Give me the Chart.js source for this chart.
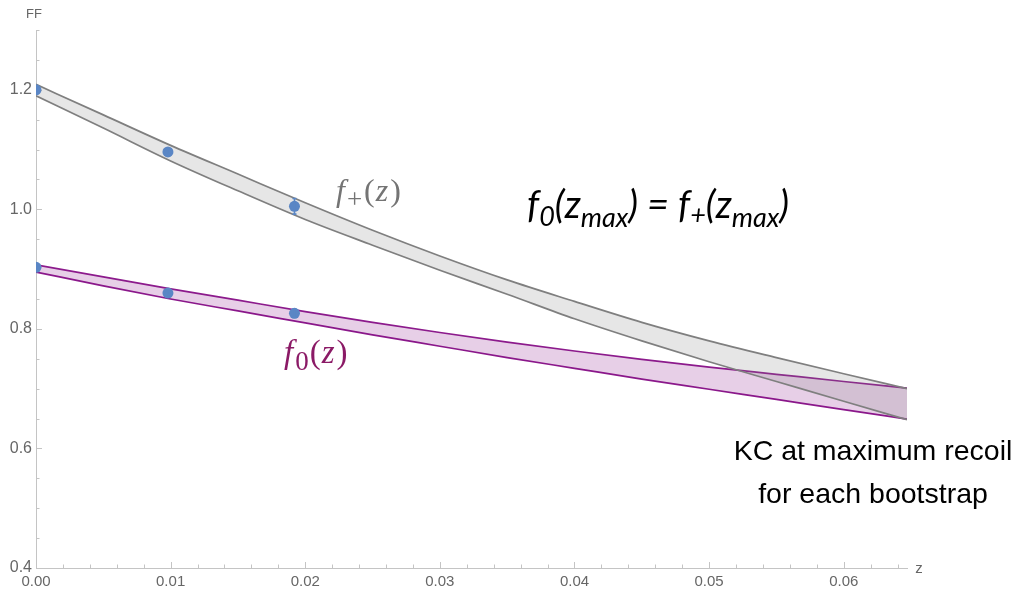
<!DOCTYPE html>
<html>
<head>
<meta charset="utf-8">
<script src="https://cdn.jsdelivr.net/npm/chart.js@4.4.1/dist/chart.umd.min.js"></script>
<style>
  html, body { margin: 0; padding: 0; background: #fff; }
  #wrap { width: 1018px; height: 591px; position: relative; }
</style>
</head>
<body>
<div id="wrap"><canvas id="chart" width="1018" height="591"></canvas></div>
<script>
// band grid (z) and the upper/lower edges of each band
const zGrid   = [0, 0.005, 0.01, 0.015, 0.02, 0.025, 0.03, 0.035, 0.04, 0.045, 0.05, 0.055, 0.06, 0.0647];
const fPlusHi = [1.209, 1.158, 1.107, 1.059, 1.011, 0.965, 0.922, 0.882, 0.846, 0.811, 0.780, 0.752, 0.725, 0.700];
const fPlusLo = [1.190, 1.136, 1.081, 1.031, 0.983, 0.940, 0.898, 0.858, 0.817, 0.780, 0.745, 0.712, 0.679, 0.648];
const fZeroHi = [0.907, 0.887, 0.867, 0.848, 0.829, 0.811, 0.794, 0.778, 0.763, 0.749, 0.736, 0.724, 0.712, 0.701];
const fZeroLo = [0.895, 0.872, 0.850, 0.830, 0.810, 0.790, 0.771, 0.752, 0.734, 0.716, 0.699, 0.682, 0.665, 0.649];

// lattice points with errors
const latZ     = [0, 0.0098, 0.0192];
const fPlusPts = [1.200, 1.096, 1.005];
const fPlusErr = [0.004, 0.004, 0.013];
const fZeroPts = [0.903, 0.860, 0.826];
const fZeroErr = [0.003, 0.003, 0.007];

// axes
const Z_MAX = 0.0647;
const xTicks = [0, 0.01, 0.02, 0.03, 0.04, 0.05, 0.06];
const yTicks = [0.4, 0.6, 0.8, 1.0, 1.2];
const X_MINOR = 0.002, Y_MINOR = 0.05;

const GRAY = '#7f7f7f';
const PURPLE = '#8c1a8c';
const BLUE = '#5a86c5';
const AXIS = '#c4c4c4';

const pts = (xs, ys) => xs.map((x, i) => ({ x, y: ys[i] }));

function drawRich(ctx, x, y, parts) {
  let cx = x;
  parts.forEach(([t, font, dy = 0, gap = 0]) => {
    ctx.font = font;
    ctx.fillText(t, cx, y + dy);
    cx += ctx.measureText(t).width + gap;
  });
}

const axisDecor = {
  id: 'axisDecor',
  beforeDatasetsDraw(chart) {
    const { ctx, chartArea: a, scales: { x, y } } = chart;
    ctx.save();
    ctx.strokeStyle = AXIS;
    ctx.lineWidth = 1;
    ctx.beginPath();
    for (let i = 0; i * X_MINOR <= Z_MAX + 1e-9; i++) {
      const px = Math.round(x.getPixelForValue(i * X_MINOR)) + 0.5;
      const len = i % 5 === 0 ? 6 : 3.5;
      ctx.moveTo(px, a.bottom);
      ctx.lineTo(px, a.bottom - len);
    }
    for (let i = 0; 0.4 + i * Y_MINOR <= 1.3 + 1e-9; i++) {
      const py = Math.round(y.getPixelForValue(0.4 + i * Y_MINOR)) + 0.5;
      const len = i % 4 === 0 ? 6 : 3.5;
      ctx.moveTo(a.left, py);
      ctx.lineTo(a.left + len, py);
    }
    ctx.stroke();
    ctx.restore();
  },
  afterDatasetsDraw(chart) {
    const { ctx, chartArea: a, scales: { x, y } } = chart;
    ctx.save();
    ctx.beginPath();
    ctx.rect(a.left, a.top, a.right - a.left, a.bottom - a.top);
    ctx.clip();
    ctx.strokeStyle = BLUE;
    ctx.lineWidth = 1.6;
    [[fPlusPts, fPlusErr], [fZeroPts, fZeroErr]].forEach(([vals, errs]) => {
      latZ.forEach((z, i) => {
        const px = x.getPixelForValue(z);
        const top = y.getPixelForValue(vals[i] + errs[i]);
        const bot = y.getPixelForValue(vals[i] - errs[i]);
        ctx.beginPath();
        ctx.moveTo(px, top); ctx.lineTo(px, bot);
        ctx.moveTo(px - 2, top); ctx.lineTo(px + 2, top);
        ctx.moveTo(px - 2, bot); ctx.lineTo(px + 2, bot);
        ctx.stroke();
      });
    });
    ctx.restore();
  },
  afterDraw(chart) {
    const { ctx, chartArea: a } = chart;
    ctx.save();
    ctx.textBaseline = 'alphabetic';

    // axis names
    ctx.fillStyle = '#666';
    ctx.textAlign = 'center';
    ctx.font = '13px "Liberation Sans", Arial, sans-serif';
    ctx.fillText('FF', a.left - 2, 18);
    ctx.font = '15px "Liberation Sans", Arial, sans-serif';
    ctx.fillText('z', a.right + 12, a.bottom + 5);
    ctx.textAlign = 'left';

    // curve labels
    const serif = '"Liberation Serif", "DejaVu Serif", serif';
    ctx.fillStyle = '#747474';
    drawRich(ctx, 336, 201, [
      ['f', `italic 32px ${serif}`, 0, 2],
      ['+', `27px ${serif}`, 7, 2],
      ['(', `32px ${serif}`, 0, 1],
      ['z', `italic 32px ${serif}`, 0, 2],
      [')', `32px ${serif}`]
    ]);
    ctx.fillStyle = '#8b1a66';
    drawRich(ctx, 284, 363, [
      ['f', `italic 33px ${serif}`, 0, 2],
      ['0', `27px ${serif}`, 7, 1],
      ['(', `33px ${serif}`, 0, 1],
      ['z', `italic 33px ${serif}`, 0, 2],
      [')', `33px ${serif}`]
    ]);

    // constraint
    const S = 38, s = 27, sans = 'Lato, "Open Sans", sans-serif';
    ctx.fillStyle = '#000';
    drawRich(ctx, 527, 218, [
      ['f', `italic ${S}px ${sans}`],
      ['0', `italic ${s}px ${sans}`, 8],
      ['(z', `italic ${S}px ${sans}`],
      ['max', `italic ${s}px ${sans}`, 9],
      [') = f', `italic ${S}px ${sans}`],
      ['+', `italic ${s}px ${sans}`, 6],
      ['(z', `italic ${S}px ${sans}`],
      ['max', `italic ${s}px ${sans}`, 9],
      [')', `italic ${S}px ${sans}`]
    ]);

    // note
    ctx.textAlign = 'center';
    ctx.font = '28.5px "Liberation Sans", Arial, sans-serif';
    ctx.fillText('KC at maximum recoil', 873, 460);
    ctx.fillText('for each bootstrap', 873, 503);
    ctx.restore();
  }
};

const bandLine = (data, color, fill, bg) => ({
  type: 'line',
  data,
  borderColor: color,
  borderWidth: 1.7,
  pointRadius: 0,
  cubicInterpolationMode: 'monotone',
  fill,
  backgroundColor: bg,
  order: 1
});

const pointSet = (data) => ({
  type: 'line',
  data,
  showLine: false,
  pointRadius: 5.5,
  pointBackgroundColor: BLUE,
  pointBorderWidth: 0,
  clip: 0,
  order: 0
});

new Chart(document.getElementById('chart'), {
  data: {
    datasets: [
      bandLine(pts(zGrid, fPlusHi), GRAY, '+1', 'rgba(128,128,128,0.2)'),
      bandLine(pts(zGrid, fPlusLo), GRAY, false, 'transparent'),
      bandLine(pts(zGrid, fZeroHi), PURPLE, '+1', 'rgba(128,0,128,0.19)'),
      bandLine(pts(zGrid, fZeroLo), PURPLE, false, 'transparent'),
      pointSet(pts(latZ, fPlusPts)),
      pointSet(pts(latZ, fZeroPts))
    ]
  },
  options: {
    responsive: false,
    animation: false,
    layout: { padding: { left: 0, right: 111, top: 30, bottom: 0 } },
    plugins: { legend: { display: false }, tooltip: { enabled: false } },
    scales: {
      x: {
        type: 'linear',
        min: 0,
        max: Z_MAX,
        grid: { display: false, drawTicks: false },
        border: { color: AXIS, width: 1 },
        afterBuildTicks: s => { s.ticks = xTicks.map(v => ({ value: v })); },
        afterFit: s => { s.height = 23; },
        ticks: {
          color: '#666',
          padding: 5,
          maxRotation: 0,
          font: { family: '"Liberation Sans", Arial, sans-serif', size: 15 },
          callback: v => v.toFixed(2)
        }
      },
      y: {
        type: 'linear',
        min: 0.4,
        max: 1.3,
        grid: { display: false, drawTicks: false },
        border: { color: AXIS, width: 1 },
        afterBuildTicks: s => { s.ticks = yTicks.map(v => ({ value: v })); },
        afterFit: s => { s.width = 36; },
        ticks: {
          color: '#666',
          padding: 4,
          font: { family: '"Liberation Sans", Arial, sans-serif', size: 16 },
          callback: v => v.toFixed(1)
        }
      }
    }
  },
  plugins: [axisDecor]
});
</script>
</body>
</html>
